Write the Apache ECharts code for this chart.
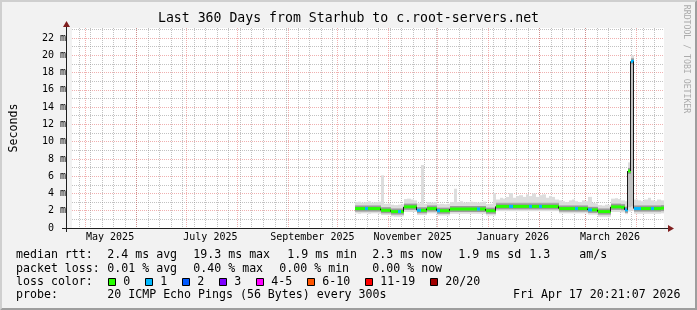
<!DOCTYPE html>
<html>
<head>
<meta charset="utf-8">
<title>Last 360 Days from Starhub to c.root-servers.net</title>
<script src="https://cdn.jsdelivr.net/npm/echarts@6/dist/echarts.min.js"></script>
<style>
html, body { margin: 0; padding: 0; background: #f2f2f2; }
#main { width: 697px; height: 310px; }
</style>
</head>
<body>
<div id="main"></div>
<script>
// smokeping style graph: 360 days, ending Fri Apr 17 20:21:07 2026
var startMs = Date.UTC(2025, 3, 22, 20, 21, 7);
var spanDays = 360;
var firstSampleDay = 172;   // data starts mid october
var sampleStep = 2;         // days per sample

var monthLabels = ['May 2025', 'July 2025', 'September 2025', 'November 2025', 'January 2026', 'March 2026'];
var monthLabelDates = [[2025, 4, 16], [2025, 6, 16], [2025, 8, 16], [2025, 10, 16], [2026, 0, 16], [2026, 2, 16]];

// median rtt (ms) per sample
var median = [
  2.25, 2.25, 2.25, 2.25, 2.25, 2.25, 2.25, 2.25, 2.05, 2.05,
  2.05, 1.90, 1.90, 1.90, 1.90, 2.45, 2.45, 2.45, 2.45, 2.05,
  2.05, 2.05, 2.25, 2.25, 2.25, 2.00, 2.00, 2.00, 2.00, 2.20,
  2.20, 2.20, 2.20, 2.20, 2.20, 2.20, 2.20, 2.20, 2.20, 2.20,
  2.00, 2.00, 2.00, 2.50, 2.50, 2.50, 2.50, 2.50, 2.50, 2.50,
  2.50, 2.50, 2.50, 2.50, 2.50, 2.50, 2.50, 2.50, 2.50, 2.50,
  2.50, 2.50, 2.25, 2.25, 2.25, 2.25, 2.25, 2.25, 2.25, 2.25,
  2.25, 2.10, 2.10, 2.10, 1.90, 1.90, 1.90, 1.90, 2.45, 2.45,
  2.45, 2.40, 2.10, 6.60, 19.30, 2.25, 2.25, 2.25, 2.25, 2.25,
  2.25, 2.25, 2.25, 2.30
];
// lost pings out of 20
var loss = [
  0, 0, 0, 1, 0, 0, 0, 0, 0, 0,
  0, 0, 0, 1, 0, 0, 0, 0, 0, 1,
  0, 0, 0, 0, 0, 1, 0, 0, 0, 0,
  0, 0, 0, 0, 0, 0, 0, 1, 0, 0,
  0, 0, 0, 0, 0, 0, 0, 1, 0, 0,
  0, 0, 0, 1, 0, 0, 1, 0, 0, 0,
  0, 0, 0, 0, 0, 0, 0, 1, 0, 0,
  0, 1, 0, 0, 0, 0, 0, 0, 0, 0,
  0, 0, 1, 0, 1, 1, 1, 0, 0, 0,
  1, 0, 0, 0
];
// smoke: full spread of the pings
var smokeMin = [
  1.70, 1.65, 1.70, 1.70, 1.65, 1.70, 1.70, 1.65, 1.50, 1.50,
  1.50, 1.35, 1.30, 1.30, 1.35, 1.85, 1.85, 1.85, 1.85, 1.50,
  1.50, 1.50, 1.70, 1.70, 1.70, 1.45, 1.45, 1.45, 1.45, 1.65,
  1.65, 1.65, 1.65, 1.65, 1.65, 1.65, 1.65, 1.65, 1.65, 1.65,
  1.45, 1.45, 1.45, 1.95, 1.95, 1.95, 1.95, 1.95, 1.95, 1.95,
  1.95, 1.95, 1.95, 1.95, 1.95, 1.95, 1.95, 1.95, 1.95, 1.95,
  1.95, 1.95, 1.70, 1.70, 1.70, 1.70, 1.70, 1.70, 1.70, 1.70,
  1.70, 1.55, 1.55, 1.55, 1.30, 1.30, 1.30, 1.30, 1.85, 1.85,
  1.85, 1.80, 1.60, 1.90, 2.00, 1.65, 1.65, 1.65, 1.65, 1.65,
  1.65, 1.65, 1.65, 1.70
];
var smokeMax = [
  3.00, 3.05, 2.95, 3.00, 3.10, 2.95, 3.00, 3.05, 6.10, 2.80,
  2.85, 2.70, 2.65, 2.70, 2.75, 3.35, 3.40, 3.30, 3.20, 2.85,
  7.30, 2.80, 3.00, 2.95, 3.00, 2.75, 2.80, 2.75, 2.80, 3.00,
  4.55, 3.00, 3.10, 2.95, 3.00, 3.05, 3.00, 2.95, 3.00, 3.05,
  2.75, 2.80, 4.05, 3.30, 3.50, 3.40, 3.60, 4.05, 3.50, 3.70,
  3.80, 3.60, 3.90, 3.70, 4.00, 3.60, 3.80, 3.90, 3.50, 3.70,
  3.60, 3.30, 3.20, 3.10, 3.00, 3.20, 3.30, 3.10, 3.00, 3.20,
  3.10, 3.60, 2.90, 2.85, 2.65, 2.60, 2.70, 2.65, 3.40, 3.45,
  3.35, 3.20, 3.10, 7.60, 20.00, 3.30, 3.20, 3.10, 3.30, 3.50,
  3.20, 3.10, 3.30, 3.20
];
// smoke: dense middle part of the pings
var smokeLo = [
  1.95, 1.95, 1.95, 1.95, 1.95, 1.95, 1.95, 1.95, 1.75, 1.75,
  1.75, 1.60, 1.60, 1.60, 1.60, 2.15, 2.15, 2.15, 2.15, 1.80,
  1.80, 1.80, 1.95, 1.95, 1.95, 1.75, 1.75, 1.75, 1.75, 1.90,
  1.90, 1.90, 1.90, 1.90, 1.90, 1.90, 1.90, 1.90, 1.90, 1.90,
  1.75, 1.75, 1.75, 2.20, 2.20, 2.20, 2.20, 2.20, 2.20, 2.20,
  2.20, 2.20, 2.20, 2.20, 2.20, 2.20, 2.20, 2.20, 2.20, 2.20,
  2.20, 2.20, 1.95, 1.95, 1.95, 1.95, 1.95, 1.95, 1.95, 1.95,
  1.95, 1.85, 1.85, 1.85, 1.60, 1.60, 1.60, 1.60, 2.15, 2.15,
  2.15, 2.10, 1.85, 2.40, 2.50, 1.95, 1.95, 1.95, 1.95, 1.95,
  1.95, 1.95, 1.95, 1.95
];
var smokeHi = [
  2.60, 2.60, 2.60, 2.60, 2.60, 2.60, 2.60, 2.60, 2.40, 2.40,
  2.40, 2.25, 2.25, 2.25, 2.25, 2.85, 2.85, 2.85, 2.85, 2.40,
  2.40, 2.40, 2.60, 2.60, 2.60, 2.35, 2.35, 2.35, 2.35, 2.55,
  2.55, 2.55, 2.55, 2.55, 2.55, 2.55, 2.55, 2.55, 2.55, 2.55,
  2.35, 2.35, 2.35, 2.95, 2.95, 2.95, 2.95, 2.95, 2.95, 2.95,
  2.95, 2.95, 2.95, 2.95, 2.95, 2.95, 2.95, 2.95, 2.95, 2.95,
  2.95, 2.95, 2.60, 2.60, 2.60, 2.60, 2.60, 2.60, 2.60, 2.60,
  2.60, 2.45, 2.45, 2.45, 2.25, 2.25, 2.25, 2.25, 2.85, 2.85,
  2.85, 2.80, 2.50, 7.00, 19.60, 2.60, 2.60, 2.60, 2.60, 2.60,
  2.60, 2.60, 2.60, 2.60
];

var lossLabels = ['0', '1', '2', '3', '4-5', '6-10', '11-19', '20/20'];
var lossColors = ['#26ff00', '#00b8ff', '#0059ff', '#7e00ff', '#ff00ff', '#ff5500', '#ff0000', '#a10000'];

var rttLine = [['median rtt:', 16], ['2.4 ms avg', 107.3], ['19.3 ms max', 193.3], ['1.9 ms min', 287.3],
               ['2.3 ms now', 372.3], ['1.9 ms sd', 458.3], ['1.3', 529.3], ['am/s', 579.3]];
var lossLine = [['packet loss:', 16], ['0.01 % avg', 107.3], ['0.40 % max', 193.3], ['0.00 % min', 279.3],
                ['0.00 % now', 372.3]];
var probeText = '20 ICMP Echo Pings (56 Bytes) every 300s';
var stampText = 'Fri Apr 17 20:21:07 2026';

function dayOf(y, m, d) {
    return (Date.UTC(y, m, d) - startMs) / 864e5;
}
function lossBucket(n) {
    if (n <= 3) return n;
    if (n <= 5) return 4;
    if (n <= 10) return 5;
    if (n <= 19) return 6;
    return 7;
}

// grid lines: weekly (sundays) and monthly
var gridData = [];
var sunday = dayOf(2025, 3, 27);
for (var d = sunday; d < spanDays; d += 7) gridData.push([d, 0]);
for (var mo = 4; mo < 16; mo++) {
    var md = dayOf(2025 + Math.floor(mo / 12), mo % 12, 1);
    if (md > 0 && md < spanDays) gridData.push([md, 1]);
}
var labelDays = monthLabelDates.map(function (a) { return dayOf(a[0], a[1], a[2]); });

var smokeData = [], bandData = [];
for (var i = 0; i < median.length; i++) {
    var x0 = firstSampleDay + i * sampleStep, x1 = x0 + sampleStep;
    smokeData.push([x0, x1, smokeMin[i], smokeMax[i], smokeLo[i], smokeHi[i], median[i]]);
    var next = i + 1 < median.length ? median[i + 1] : median[i];
    bandData.push([x0, x1, median[i], next, loss[i]]);
}

var mono = '"DejaVu Sans Mono", monospace';
var G = {left: 66, top: 28, width: 598, height: 200};
var minorGrid = 'rgba(143,143,143,0.55)';
var majorGrid = 'rgba(222,79,79,0.45)';

function px(api, x) {
    return Math.round(api.coord([x, 0])[0]);
}

var graphics = [
    {type: 'polygon', z: 100, silent: true, shape: {points: [[0, 0], [697, 0], [695, 2], [2, 2], [2, 308], [0, 310]]}, style: {fill: '#cfcfcf'}},
    {type: 'polygon', z: 100, silent: true, shape: {points: [[697, 0], [697, 310], [0, 310], [2, 308], [695, 308], [695, 2]]}, style: {fill: '#9e9e9e'}},
    // axes and arrows
    {type: 'line', z: 100, shape: {x1: 62, y1: 228.5, x2: 669, y2: 228.5}, style: {stroke: '#1f1f1f', lineWidth: 1}},
    {type: 'line', z: 100, shape: {x1: 66.5, y1: 232, x2: 66.5, y2: 24}, style: {stroke: '#1f1f1f', lineWidth: 1}},
    {type: 'polygon', z: 101, shape: {points: [[668, 225], [674, 228.5], [668, 232]]}, style: {fill: '#801f1f'}},
    {type: 'polygon', z: 101, shape: {points: [[63, 27], [66.5, 21], [70, 27]]}, style: {fill: '#801f1f'}},
    {type: 'text', z: 100, x: 686.5, y: 59, rotation: -Math.PI / 2,
     style: {text: 'RRDTOOL / TOBI OETIKER', x: 0, y: 0, font: '8.2px ' + mono, fill: '#ababab',
             align: 'center', verticalAlign: 'middle'}}
];

function legendText(s, x, y) {
    graphics.push({type: 'text', z: 100, style: {text: s, x: x, y: y, font: '11.6px ' + mono, fill: '#000',
                   align: 'left', verticalAlign: 'middle'}});
}
var rowY = [255.3, 268.7, 282, 295.4];
rttLine.forEach(function (t) { legendText(t[0], t[1], rowY[0]); });
lossLine.forEach(function (t) { legendText(t[0], t[1], rowY[1]); });
legendText('loss color:', 16, rowY[2]);
var bx = 108.3;
lossLabels.forEach(function (lab, k) {
    graphics.push({type: 'rect', z: 100, shape: {x: Math.round(bx) + 0.5, y: 278.5, width: 7, height: 7},
                   style: {fill: lossColors[k], stroke: '#000', lineWidth: 1}});
    legendText(lab, bx + 15, rowY[2]);
    bx += 15 + lab.length * 7 + 15;
});
legendText('probe:', 16, rowY[3]);
legendText(probeText, 107.3, rowY[3]);
legendText(stampText, 513, rowY[3]);

var chart = echarts.init(document.getElementById('main'));
var option = {
    animation: false,
    backgroundColor: '#f2f2f2',
    title: {
        text: 'Last 360 Days from Starhub to c.root-servers.net',
        left: 'center', top: 12, padding: 0,
        textStyle: {fontFamily: mono, fontSize: 13.2, fontWeight: 'normal', color: '#000'}
    },
    grid: {left: G.left, top: G.top, width: G.width, height: G.height, show: true,
           backgroundColor: '#ffffff', borderWidth: 0},
    xAxis: {
        type: 'value', min: 0, max: spanDays,
        axisLine: {show: false}, axisTick: {show: false}, splitLine: {show: false},
        axisLabel: {
            customValues: labelDays, margin: 4,
            fontFamily: mono, fontSize: 10, color: '#000',
            formatter: function (v) {
                for (var k = 0; k < labelDays.length; k++) {
                    if (Math.abs(labelDays[k] - v) < 0.01) return monthLabels[k];
                }
                return '';
            }
        }
    },
    yAxis: {
        type: 'value', min: 0, max: 23.16, interval: 1,
        name: 'Seconds', nameLocation: 'middle', nameGap: 52, nameRotate: 90,
        nameTextStyle: {fontFamily: mono, fontSize: 11.6, color: '#000'},
        axisLine: {show: false}, axisTick: {show: false},
        axisLabel: {
            margin: 6, fontFamily: mono, fontSize: 10, color: '#000',
            showMaxLabel: false,
            formatter: function (v) {
                if (v === 0) return '{z|0}';
                if (v % 2 === 0) return v + ' m';
                return '';
            },
            rich: {
                z: {fontFamily: mono, fontSize: 10, color: '#000', padding: [0, 12, 0, 0]}
            }
        },
        splitLine: {
            show: true, showMaxLine: false,
            lineStyle: {color: [majorGrid, minorGrid], width: 1, type: [1, 1]}
        }
    },
    graphic: graphics,
    series: [
        {
            // vertical grid lines
            type: 'custom', z: 1, silent: true, data: gridData,
            renderItem: function (params, api) {
                var x = px(api, api.value(0)) + 0.5;
                var major = api.value(1) === 1;
                return {
                    type: 'line',
                    shape: {x1: x, y1: params.coordSys.y, x2: x, y2: params.coordSys.y + params.coordSys.height},
                    style: {stroke: major ? majorGrid : minorGrid, lineWidth: 1, lineDash: [1, 1]}
                };
            }
        },
        {
            // smoke
            type: 'custom', z: 2, silent: true, data: smokeData,
            encode: {x: [0, 1], y: [2, 3]},
            renderItem: function (params, api) {
                var x0 = px(api, api.value(0)), x1 = px(api, api.value(1));
                function band(lo, hi, fill) {
                    var yTop = api.coord([0, hi])[1], yBot = api.coord([0, lo])[1];
                    return {type: 'rect', shape: {x: x0, y: yTop, width: x1 - x0, height: yBot - yTop}, style: {fill: fill}};
                }
                var yM = api.coord([0, api.value(6)])[1];
                return {type: 'group', children: [
                    band(api.value(2), api.value(3), '#dddddd'),
                    band(api.value(4), api.value(5), '#c2c2c2'),
                    {type: 'rect', shape: {x: x0, y: yM - 3, width: x1 - x0, height: 6}, style: {fill: '#9a9a9a'}}
                ]};
            }
        },
        {
            // median, coloured by packet loss
            type: 'custom', z: 3, silent: true, data: bandData,
            encode: {x: [0, 1], y: 2},
            renderItem: function (params, api) {
                var x0 = px(api, api.value(0)), x1 = px(api, api.value(1));
                var yM = api.coord([0, api.value(2)])[1];
                var yN = api.coord([0, api.value(3)])[1];
                var col = lossColors[lossBucket(api.value(4))];
                var kids = [
                    {type: 'rect', shape: {x: x0, y: yM - 1.5, width: x1 - x0, height: 3}, style: {fill: col}}
                ];
                if (Math.abs(yN - yM) > 0.5) {
                    kids.push({type: 'line', shape: {x1: x1 - 0.5, y1: yM, x2: x1 - 0.5, y2: yN},
                               style: {stroke: '#1a1a1a', lineWidth: 1}});
                }
                return {type: 'group', children: kids};
            }
        }
    ]
};
chart.setOption(option);
</script>
</body>
</html>
